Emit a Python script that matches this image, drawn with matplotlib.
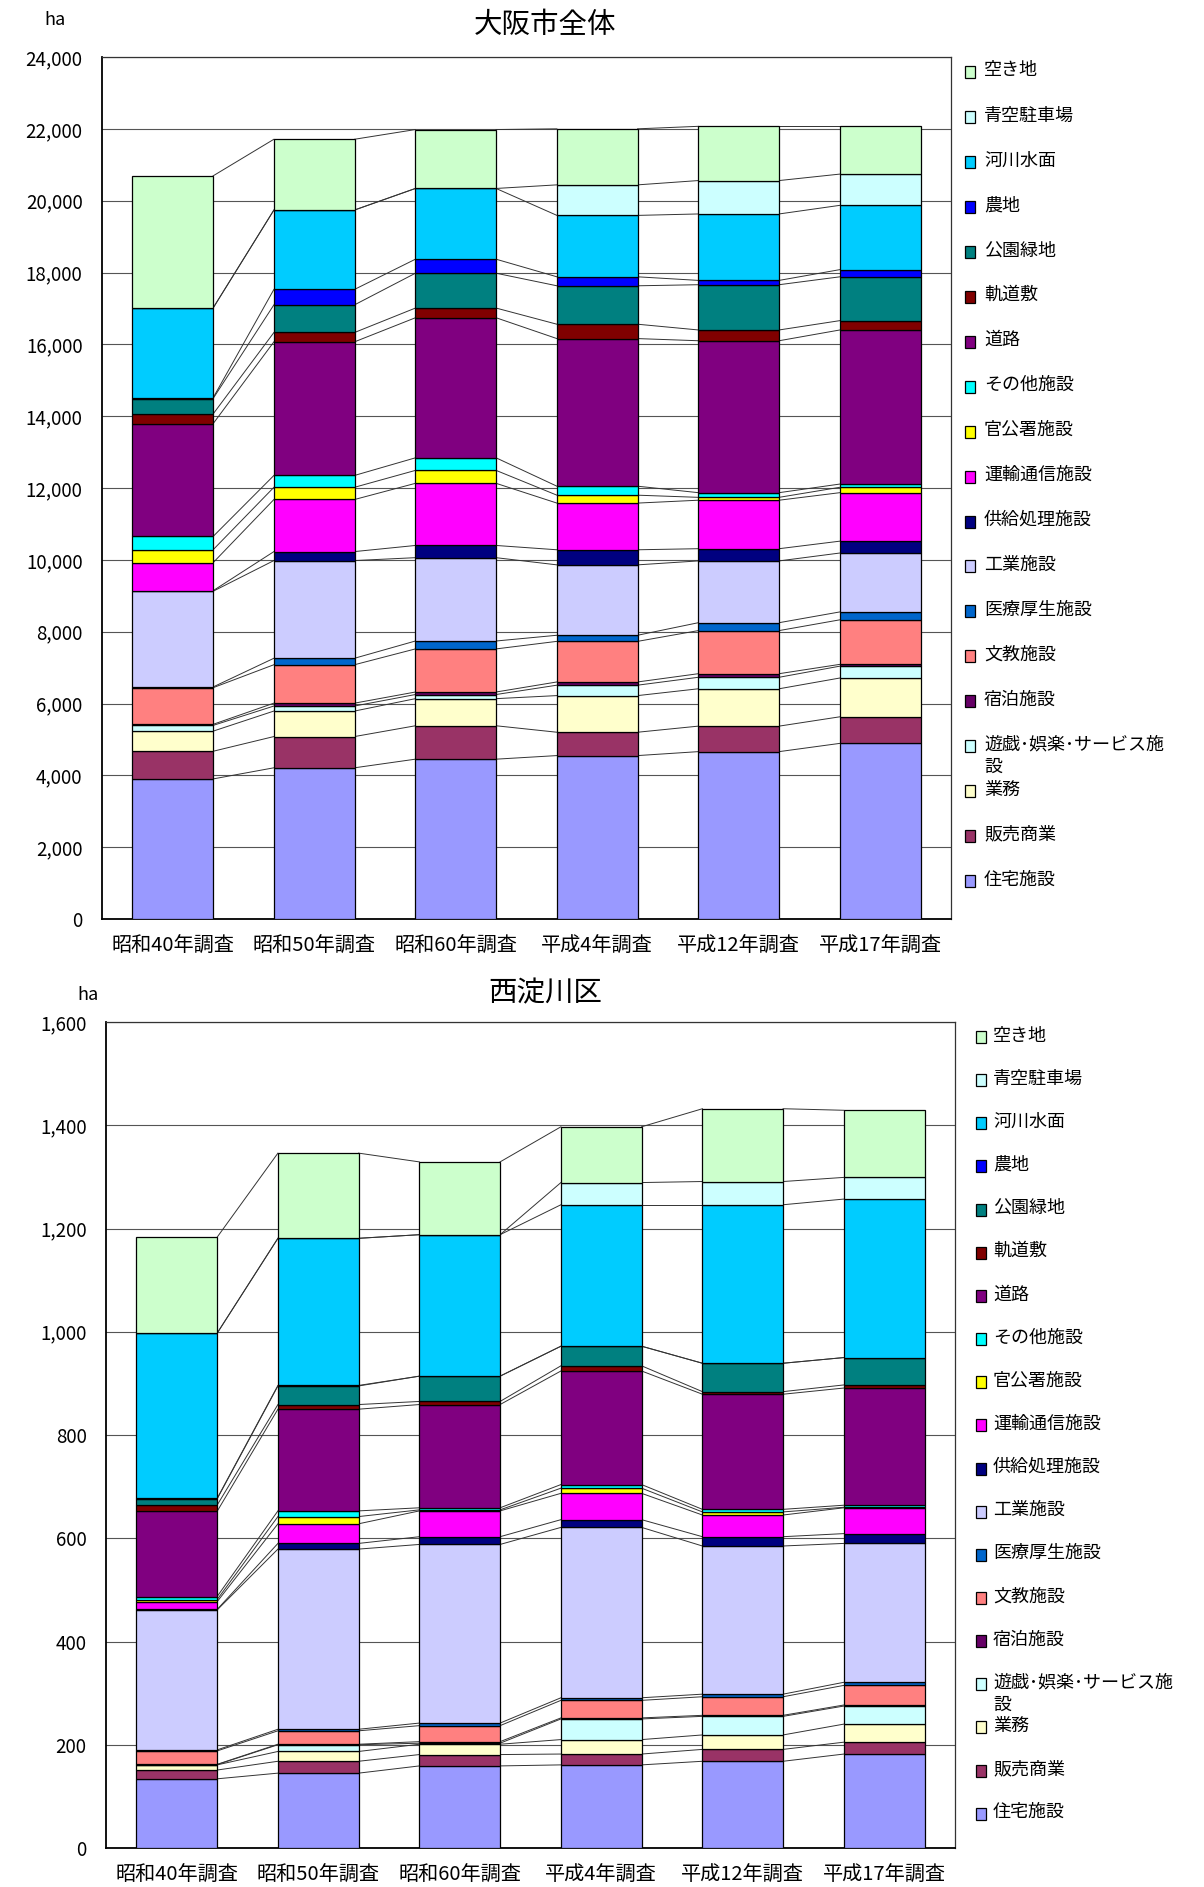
import numpy as np
import matplotlib
matplotlib.use("Agg")
import matplotlib.pyplot as plt
from matplotlib.patches import Rectangle
from matplotlib.ticker import FuncFormatter, MultipleLocator

plt.rcParams["font.family"] = ["Noto Sans CJK JP", "DejaVu Sans"]

W, H = 1204, 1887

surveys = ["昭和40年調査", "昭和50年調査", "昭和60年調査", "平成4年調査", "平成12年調査", "平成17年調査"]

# stacking order, bottom -> top
categories = ["住宅施設", "販売商業", "業務", "遊戯･娯楽･サービス施\n設", "宿泊施設", "文教施設",
              "医療厚生施設", "工業施設", "供給処理施設", "運輸通信施設", "官公署施設", "その他施設",
              "道路", "軌道敷", "公園緑地", "農地", "河川水面", "青空駐車場", "空き地"]
colors = ["#9999FF", "#993366", "#FFFFCC", "#CCFFFF", "#660066", "#FF8080",
          "#0066CC", "#CCCCFF", "#000080", "#FF00FF", "#FFFF00", "#00FFFF",
          "#800080", "#800000", "#008080", "#0000FF", "#00CCFF", "#CCFFFF", "#CCFFCC"]

# 大阪市全体 (ha)
osaka_housing = [3900, 4210, 4450, 4550, 4660, 4890]
osaka_retail = [770, 870, 930, 650, 710, 740]
osaka_business = [560, 710, 755, 1020, 1040, 1080]
osaka_leisure = [160, 140, 115, 290, 320, 330]
osaka_lodging = [30, 80, 70, 90, 100, 50]
osaka_education = [1020, 1070, 1200, 1130, 1200, 1240]
osaka_medical = [20, 180, 220, 170, 220, 220]
osaka_industrial = [2665, 2720, 2320, 1960, 1720, 1640]
osaka_utility = [15, 250, 340, 420, 340, 330]
osaka_transport = [780, 1450, 1730, 1300, 1350, 1350]
osaka_government = [360, 340, 360, 220, 80, 150]
osaka_other = [370, 330, 350, 250, 130, 90]
osaka_road = [3140, 3720, 3900, 4110, 4230, 4290]
osaka_railway = [270, 260, 270, 400, 300, 260]
osaka_park = [430, 770, 970, 1070, 1260, 1220]
osaka_farmland = [20, 430, 390, 250, 120, 200]
osaka_water = [2500, 2210, 1970, 1710, 1850, 1790]
osaka_parking = [0, 0, 0, 850, 930, 870]
osaka_vacant = [3680, 1970, 1640, 1560, 1510, 1330]

# 西淀川区 (ha)
nishi_housing = [134, 145, 159, 161, 168, 182]
nishi_retail = [17, 23, 22, 21, 23, 23]
nishi_business = [10, 19, 20, 28, 28, 35]
nishi_leisure = [0.5, 13, 2, 40, 36, 35]
nishi_lodging = [0.5, 1, 3, 2, 2, 2]
nishi_education = [26, 26, 31, 34, 36, 38]
nishi_medical = [2, 3, 5, 5, 5, 6]
nishi_industrial = [271, 349, 346, 330, 287, 269]
nishi_utility = [1, 11, 15, 15, 18, 19]
nishi_transport = [15, 38, 50, 51, 42, 50]
nishi_government = [4, 14, 2, 10, 6, 1]
nishi_other = [6, 11, 4, 7, 5, 4]
nishi_road = [165, 197, 200, 220, 223, 227]
nishi_railway = [12, 9, 6, 10, 5, 6]
nishi_park = [12, 36, 49, 38, 55, 53]
nishi_farmland = [1, 1, 0, 0, 0, 0]
nishi_water = [320, 285, 274, 274, 307, 307]
nishi_parking = [0, 0, 0, 43, 45, 42]
nishi_vacant = [186, 165, 141, 108, 141, 130]

osaka = [osaka_housing, osaka_retail, osaka_business, osaka_leisure, osaka_lodging,
         osaka_education, osaka_medical, osaka_industrial, osaka_utility, osaka_transport,
         osaka_government, osaka_other, osaka_road, osaka_railway, osaka_park,
         osaka_farmland, osaka_water, osaka_parking, osaka_vacant]
nishi = [nishi_housing, nishi_retail, nishi_business, nishi_leisure, nishi_lodging,
         nishi_education, nishi_medical, nishi_industrial, nishi_utility, nishi_transport,
         nishi_government, nishi_other, nishi_road, nishi_railway, nishi_park,
         nishi_farmland, nishi_water, nishi_parking, nishi_vacant]

fig = plt.figure(figsize=(W / 100, H / 100), dpi=100)
fig.patch.set_facecolor("white")


def px_axes(left, top, right, bottom):
    return fig.add_axes([left / W, 1 - bottom / H, (right - left) / W, (bottom - top) / H])


def draw_chart(ax, series, ymax, ystep, bar_w=0.57):
    x = np.arange(len(surveys))
    bottom = np.zeros(len(surveys))
    tops = []
    for vals, col in zip(series, colors):
        ax.bar(x, vals, width=bar_w, bottom=bottom, color=col,
               edgecolor="black", linewidth=0.9, zorder=3)
        bottom = bottom + np.array(vals, dtype=float)
        tops.append(bottom.copy())
    # series lines between the stacked columns
    for top in tops:
        for i in range(len(x) - 1):
            ax.plot([x[i] + bar_w / 2, x[i + 1] - bar_w / 2], [top[i], top[i + 1]],
                    color="#333333", lw=0.7, zorder=2)
    ax.set_xlim(-0.5, len(x) - 0.5)
    ax.set_ylim(0, ymax)
    ax.yaxis.set_major_locator(MultipleLocator(ystep))
    ax.yaxis.set_major_formatter(FuncFormatter(lambda v, p: f"{int(v):,}"))
    ax.grid(axis="y", color="#555555", lw=0.8, zorder=0)
    ax.set_xticks(x)
    ax.set_xticklabels(surveys)
    ax.tick_params(axis="both", length=0)
    ax.tick_params(axis="x", pad=12, labelsize=14.5)
    ax.tick_params(axis="y", pad=14, labelsize=13.5)
    for s in ["left", "bottom"]:
        ax.spines[s].set_linewidth(1.3)
        ax.spines[s].set_color("black")
    for s in ["top", "right"]:
        ax.spines[s].set_linewidth(0.9)
        ax.spines[s].set_color("#333333")


def draw_legend(marker_x, text_x, first_y, step):
    for i, (lab, col) in enumerate(zip(categories[::-1], colors[::-1])):
        y = first_y + i * step
        fig.add_artist(Rectangle(((marker_x - 5) / W, 1 - (y + 6) / H), 10 / W, 12 / H,
                                 facecolor=col, edgecolor="black", lw=0.9,
                                 transform=fig.transFigure))
        fig.text(text_x / W, 1 - (y - 10.5) / H, lab, fontsize=13, va="top", ha="left",
                 linespacing=1.3)


# 大阪市全体
ax1 = px_axes(102, 57, 951, 919)
draw_chart(ax1, osaka, 24000, 2000)
fig.text(545 / W, 1 - 25 / H, "大阪市全体", fontsize=20.5, ha="center", va="center")
fig.text(55 / W, 1 - 20 / H, "ha", fontsize=13, ha="center", va="center")
draw_legend(970, 984, 72, 44.95)

# 西淀川区
ax2 = px_axes(106, 1022, 955, 1848)
draw_chart(ax2, nishi, 1600, 200)
fig.text(545 / W, 1 - 993 / H, "西淀川区", fontsize=20.5, ha="center", va="center")
fig.text(88 / W, 1 - 995 / H, "ha", fontsize=13, ha="center", va="center")
draw_legend(981, 993, 1037, 43.15)

fig.savefig("out.png", dpi=100, facecolor="white")
